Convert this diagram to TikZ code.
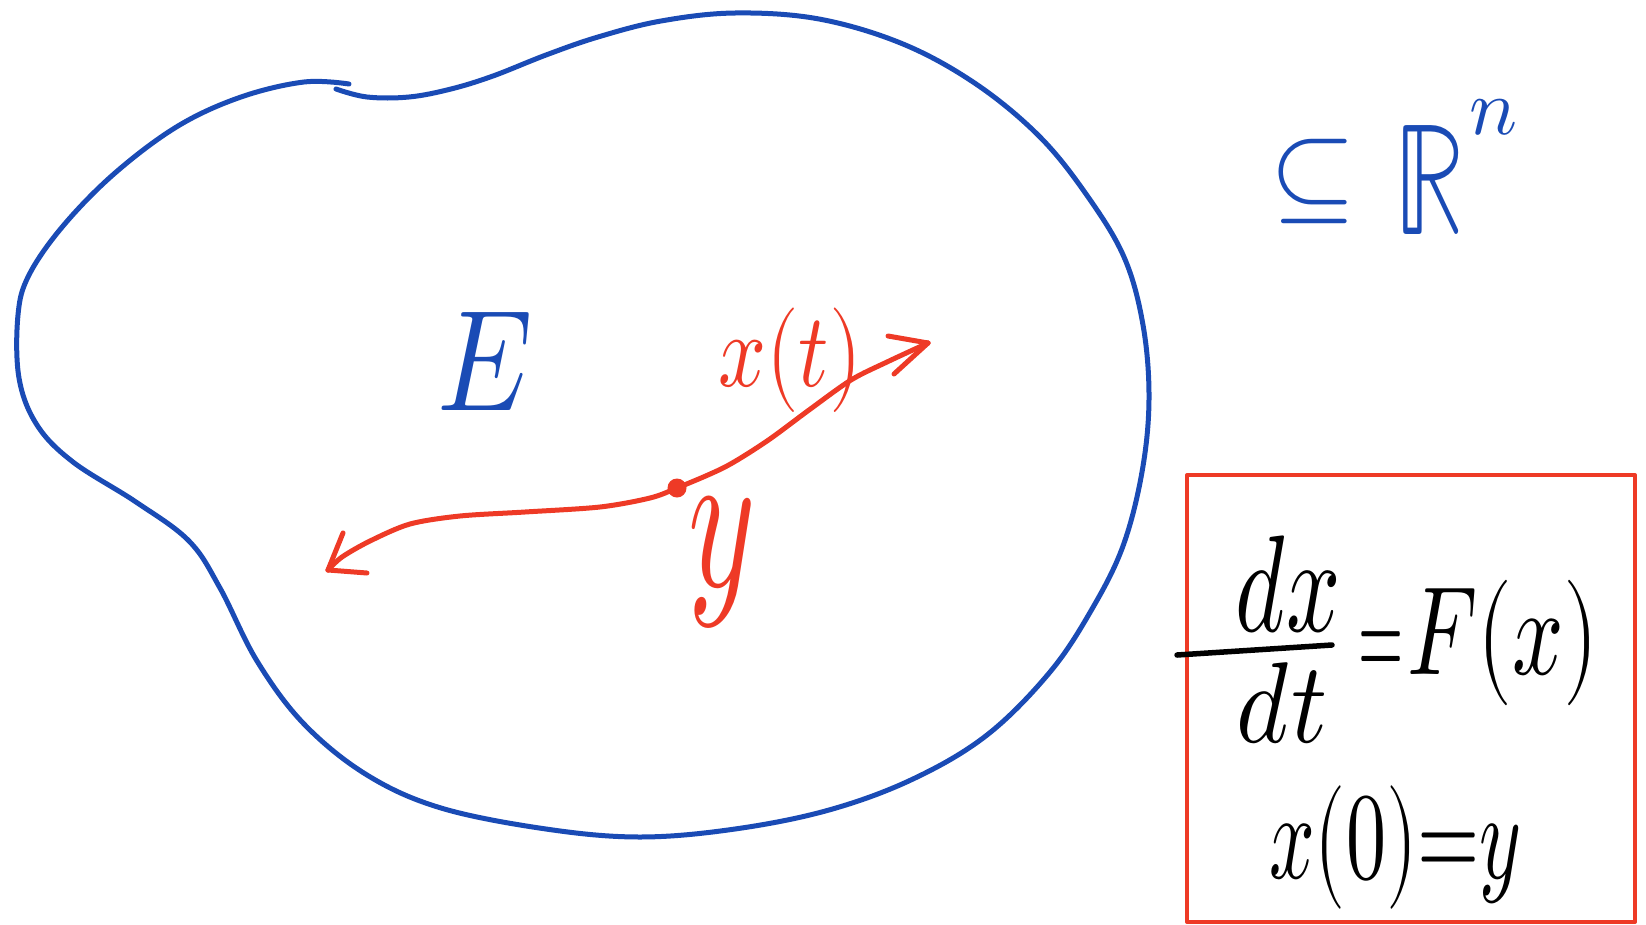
\documentclass[tikz,border=0pt]{standalone}
\usepackage{unicode-math}
\setmathfont{Latin Modern Math}
\newcommand{\myfs}[1]{\fontsize{#1}{#1}\selectfont}
\definecolor{penblue}{RGB}{26,75,181}
\definecolor{penred}{RGB}{238,58,38}
\begin{document}
\begin{tikzpicture}[x=1pt,y=-1pt,line cap=round,line join=round,
  blueline/.style={draw=penblue,line width=5pt},
  redline/.style={draw=penred,line width=5pt},
  blackline/.style={draw=black,line width=5.5pt},
  lbl/.style={inner sep=0pt,outer sep=0pt,transform shape}]
\useasboundingbox (0,0) rectangle (1646,924);
% region E (blob)
\draw[blueline] plot[smooth,tension=0.6] coordinates {
 (336,89) (367,97) (409,97) (451,89) (493,76) (546,55) (598,37) (661,21)
 (735,13) (819,19) (903,44) (976,84) (1039,136) (1086,194) (1124,257)
 (1143,325) (1149,399) (1142,472) (1123,546) (1092,609) (1050,672) (987,735)
 (913,779) (829,810) (735,829) (640,837) (546,829) (441,808) (367,775)
 (304,724) (257,661) (220,588) (189,541) (136,502) (73,462) (37,425)
 (19,378) (18,315) (29,275) (63,226) (115,173) (178,126) (241,97) (304,82) (349,84)};
% labels
\node[lbl,text=penblue,font={\myfs{120}},yscale=1.2] (E) at (485,362) {$E$};
\node[lbl,text=penblue,font={\myfs{112}}] (sub) at (1313,181) {$\subseteq$};
\node[lbl,text=penblue,font={\myfs{110}},yscale=1.45] (R) at (1430,180) {$\mathbb{R}$};
\node[lbl,text=penblue,font={\myfs{80}}] (n) at (1493,117) {$n$};
% trajectory
\coordinate (L) at (328,570);
\coordinate (Rt) at (928,343);
\node[circle,fill=penred,inner sep=0pt,minimum size=19pt] (y0) at (677,488) {};
\draw[redline] plot[smooth,tension=0.5] coordinates {
 (L) (342,557) (370,541) (410,524) (460,516) (525,512) (600,507) (650,498) (y0.center)
 (725,467) (767,441) (809,410) (851,380) (887,362) (Rt)};
\draw[redline] (L) -- (343,533);
\draw[redline] (L) -- (367,573);
\draw[redline] (Rt) -- (888,336);
\draw[redline] (Rt) -- (894,374);
\node[lbl,text=penred,font={\myfs{84}},yscale=1.25] (xt) at (790,360) {$x(t)$};
\node[lbl,text=penred,font={\myfs{128}},yscale=1.6] (ylab) at (722,562) {$y$};
% equation box
\node[draw=penred,line width=4pt,inner sep=0pt,minimum width=448pt,minimum height=447pt] (box) at (1411,698.5) {};
\coordinate (barL) at (1177,655);
\coordinate (barR) at (1332,645);
\draw[blackline] (barL) -- (barR);
\node[lbl,font={\myfs{95}},yscale=1.45] (dx) at (1288,584) {$dx$};
\node[lbl,font={\myfs{100}},yscale=1.15] (dt) at (1282,703) {$dt$};
\node[lbl,font={\myfs{58}},yscale=2.2] (eq1) at (1381,655) {$=$};
\node[lbl,font={\myfs{90}},yscale=1.4] (Fx) at (1503,643) {$F(x)$};
\node[lbl,font={\myfs{80}},yscale=1.55] (init) at (1395,847) {$x(0){=}y$};
\end{tikzpicture}
\end{document}
